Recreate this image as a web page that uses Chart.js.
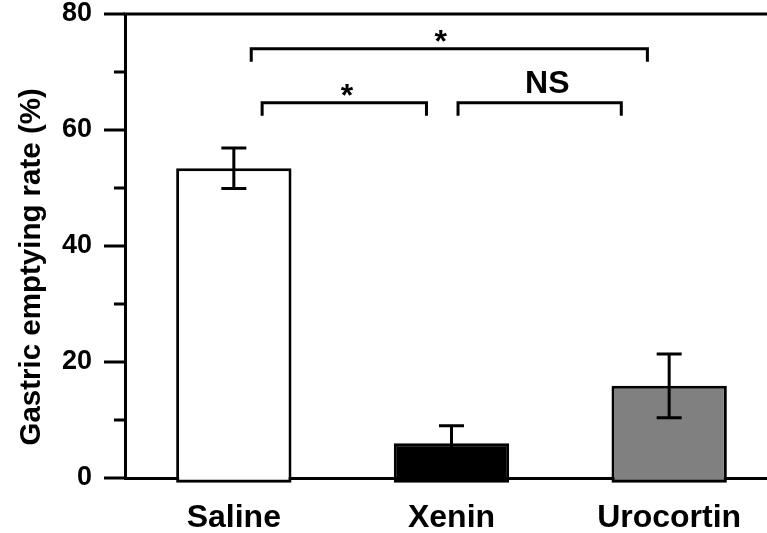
<!DOCTYPE html>
<html lang="en">
<head>
  <meta charset="UTF-8">
  <title>Gastric emptying rate</title>
  <style>
    html, body { margin: 0; padding: 0; background: #fff; overflow: hidden; }
    #wrap { width: 778px; height: 533px; }
  </style>
</head>
<body>
  <div id="wrap"><canvas id="graphic"></canvas></div>

  <script src="https://cdn.jsdelivr.net/npm/chart.js"></script>
  <script>
    const categories = ['Saline', 'Xenin', 'Urocortin'];
    const means = [53.4, 6.0, 15.9];
    const sem = [3.5, 3.0, 5.5];
    const fills = ['#ffffff', '#000000', '#808080'];
    const majorTicks = [0, 20, 40, 60, 80];
    const minorTicks = [10, 30, 50, 70];
    const yTitle = 'Gastric emptying rate (%)';

    // significance brackets: category index from/to, height, label
    const bracketFrom = [0.08, 0.13, 1.03];
    const bracketTo = [1.9, 0.885, 1.78];
    const bracketY = [74, 64.7, 64.7];
    const bracketLabel = ['*', '*', 'NS'];
    const bracketLabelX = [0.95, 0.52, 1.44];

    const FONT = "'Liberation Sans', Arial, sans-serif";

    const extras = {
      id: 'extras',
      afterDatasetsDraw(chart) {
        const ctx = chart.ctx;
        const x = chart.scales.x, y = chart.scales.y;
        const area = chart.chartArea;
        ctx.save();
        ctx.strokeStyle = '#000';
        ctx.lineWidth = 3;

        // error bars
        means.forEach((m, i) => {
          const cx = x.getPixelForValue(i);
          const top = y.getPixelForValue(m + sem[i]);
          const bot = y.getPixelForValue(m - sem[i]);
          ctx.beginPath();
          ctx.moveTo(cx, top); ctx.lineTo(cx, bot);
          ctx.moveTo(cx - 12.5, top); ctx.lineTo(cx + 12.5, top);
          ctx.moveTo(cx - 12.5, bot); ctx.lineTo(cx + 12.5, bot);
          ctx.stroke();
        });

        // top frame line
        ctx.beginPath();
        ctx.moveTo(area.left - 1.5, area.top);
        ctx.lineTo(area.right, area.top);
        ctx.stroke();

        // y ticks
        ctx.beginPath();
        majorTicks.forEach(v => {
          const py = y.getPixelForValue(v);
          ctx.moveTo(area.left - 21, py); ctx.lineTo(area.left, py);
        });
        minorTicks.forEach(v => {
          const py = y.getPixelForValue(v);
          ctx.moveTo(area.left - 11, py); ctx.lineTo(area.left, py);
        });
        ctx.stroke();

        // brackets
        ctx.fillStyle = '#000';
        ctx.textAlign = 'center';
        ctx.textBaseline = 'alphabetic';
        bracketFrom.forEach((f, i) => {
          const x0 = x.getPixelForValue(f);
          const x1 = x.getPixelForValue(bracketTo[i]);
          const py = y.getPixelForValue(bracketY[i]);
          ctx.beginPath();
          ctx.moveTo(x0, py + 13);
          ctx.lineTo(x0, py);
          ctx.lineTo(x1, py);
          ctx.lineTo(x1, py + 13);
          ctx.stroke();
          const lx = x.getPixelForValue(bracketLabelX[i]);
          if (bracketLabel[i] === '*') {
            ctx.font = 'bold 32px ' + FONT;
            ctx.fillText('*', lx, py + 3);
          } else {
            ctx.font = 'bold 32px ' + FONT;
            ctx.fillText(bracketLabel[i], lx, py - 10);
          }
        });

        // y axis title, a bit below the axis centre like in the figure
        ctx.translate(32, y.getPixelForValue(36.4));
        ctx.rotate(-Math.PI / 2);
        ctx.textBaseline = 'middle';
        ctx.font = 'bold 29.5px ' + FONT;
        ctx.fillText(yTitle, 0, 0);
        ctx.restore();
      }
    };

    document.addEventListener('DOMContentLoaded', () => {
      const lienzo = document.getElementById('graphic');
      new Chart(lienzo, {
        type: 'bar',
        data: {
          labels: categories,
          datasets: [{
            data: means,
            backgroundColor: fills,
            borderColor: '#000',
            borderWidth: 3,
            borderSkipped: false,
            base: -0.8,
            clip: false,
            barPercentage: 0.53,
            categoryPercentage: 1
          }]
        },
        options: {
          responsive: true,
          maintainAspectRatio: false,
          animation: false,
          events: [],
          layout: { padding: { top: 14, left: 0, right: 0, bottom: 0 } },
          plugins: {
            legend: { display: false },
            tooltip: { enabled: false }
          },
          scales: {
            x: {
              grid: { display: false, drawTicks: false },
              border: { display: true, color: '#000', width: 3 },
              ticks: {
                color: '#000',
                padding: 24,
                font: { family: FONT, size: 32, weight: 'bold', lineHeight: 1 }
              },
              afterFit(scale) { scale.height = 55; }
            },
            y: {
              min: 0,
              max: 80,
              grid: {
                display: true,
                drawOnChartArea: false,
                drawTicks: true,
                tickLength: 33,
                color: 'rgba(0,0,0,0)'
              },
              border: { display: true, color: '#000', width: 3 },
              ticks: {
                stepSize: 20,
                color: '#000',
                padding: 0,
                font: { family: FONT, size: 27, weight: 'bold', lineHeight: 1 }
              },
              afterFit(scale) { scale.width = 125; }
            }
          }
        },
        plugins: [extras]
      });
    });
  </script>
</body>
</html>
